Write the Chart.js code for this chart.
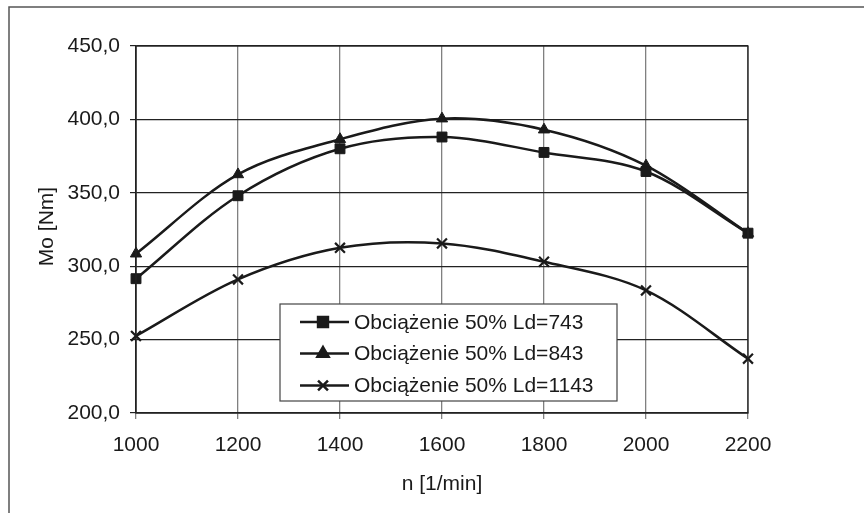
<!DOCTYPE html>
<html>
<head>
<meta charset="utf-8">
<script src="https://cdn.jsdelivr.net/npm/chart.js@4/dist/chart.umd.min.js"></script>
<style>
html,body{margin:0;padding:0;background:#fff;}
#wrap{position:relative;width:864px;height:513px;}
</style>
</head>
<body>
<div id="wrap"><canvas id="c" width="864" height="513"></canvas></div>
<script>
const categories = [1000, 1200, 1400, 1600, 1800, 2000, 2200];
const seriesLd743 = [291.5, 348, 380, 388, 377.5, 364.5, 322.5];
const seriesLd843 = [308.5, 362.5, 386.5, 400.5, 393, 368.5, 322.5];
const seriesLd1143 = [252.5, 291, 312.5, 315.5, 303, 283.5, 237];
const seriesLabels = ['Obciążenie 50% Ld=743', 'Obciążenie 50% Ld=843', 'Obciążenie 50% Ld=1143'];
const yTicks = [200, 250, 300, 350, 400, 450];
const xTitle = 'n [1/min]';
const yTitle = 'Mo [Nm]';

const FONT = '"Liberation Sans", Arial, sans-serif';
const INK = '#1a1a1a';

const frameAndLegend = {
  id: 'frameAndLegend',
  beforeDraw(chart) {
    const ctx = chart.ctx;
    ctx.save();
    ctx.strokeStyle = '#555';
    ctx.lineWidth = 1.5;
    ctx.beginPath();
    ctx.moveTo(9, 520);
    ctx.lineTo(9, 7);
    ctx.lineTo(870, 7);
    ctx.stroke();
    ctx.restore();
  },
  afterDraw(chart) {
    const ctx = chart.ctx;
    const a = chart.chartArea;
    ctx.save();
    ctx.strokeStyle = '#222';
    ctx.lineWidth = 1.3;
    ctx.strokeRect(a.left, a.top, a.right - a.left, a.bottom - a.top);
    ctx.fillStyle = INK;
    ctx.font = '21px ' + FONT;
    ctx.textAlign = 'center';
    ctx.textBaseline = 'middle';
    ctx.fillText(xTitle, (a.left + a.right) / 2, 484);
    ctx.save();
    ctx.translate(47, (a.top + a.bottom) / 2 - 3);
    ctx.rotate(-Math.PI / 2);
    ctx.fillText(yTitle, 0, 0);
    ctx.restore();
    const bx = 280, by = 304, bw = 337, bh = 97;
    ctx.fillStyle = '#fff';
    ctx.fillRect(bx, by, bw, bh);
    ctx.strokeStyle = '#444';
    ctx.lineWidth = 1.2;
    ctx.strokeRect(bx, by, bw, bh);
    const rows = [322, 353.5, 385.5];
    chart.data.datasets.forEach((ds, i) => {
      const y = rows[i];
      ctx.strokeStyle = INK;
      ctx.lineWidth = 2.5;
      ctx.beginPath();
      ctx.moveTo(300, y);
      ctx.lineTo(349, y);
      ctx.stroke();
      ctx.fillStyle = INK;
      ctx.strokeStyle = INK;
      Chart.helpers.drawPoint(ctx, {
        pointStyle: ds.pointStyle,
        radius: ds.pointRadius,
        borderWidth: ds.pointBorderWidth || 1,
        rotation: 0
      }, 323, y);
      ctx.font = '21px ' + FONT;
      ctx.textAlign = 'left';
      ctx.textBaseline = 'middle';
      ctx.fillStyle = INK;
      ctx.fillText(ds.label, 354, y + 1);
    });
    ctx.restore();
  }
};

new Chart(document.getElementById('c'), {
  type: 'line',
  data: {
    labels: categories,
    datasets: [
      { label: seriesLabels[0], data: seriesLd743, borderColor: INK, backgroundColor: INK, borderWidth: 2.5,
        pointStyle: 'rect', pointRadius: 7, pointBorderWidth: 1, pointBackgroundColor: INK, pointBorderColor: INK, tension: 0.33 },
      { label: seriesLabels[1], data: seriesLd843, borderColor: INK, backgroundColor: INK, borderWidth: 2.5,
        pointStyle: 'triangle', pointRadius: 6.5, pointBorderWidth: 1, pointBackgroundColor: INK, pointBorderColor: INK, tension: 0.33 },
      { label: seriesLabels[2], data: seriesLd1143, borderColor: INK, backgroundColor: INK, borderWidth: 2.5,
        pointStyle: 'crossRot', pointRadius: 7, pointBorderWidth: 2.2, pointBackgroundColor: INK, pointBorderColor: INK, tension: 0.33 }
    ]
  },
  options: {
    responsive: false,
    animation: false,
    devicePixelRatio: 1,
    layout: { padding: { left: 0, top: 46, right: 116, bottom: 0 } },
    plugins: { legend: { display: false }, tooltip: { enabled: false }, title: { display: false } },
    scales: {
      x: {
        type: 'category',
        offset: false,
        afterFit(s) { s.height = 100; },
        grid: { color: '#808080', lineWidth: 1.3, tickLength: 6, tickColor: '#808080', drawTicks: true },
        border: { display: true, color: '#222', width: 1.3 },
        ticks: { color: INK, font: { family: FONT, size: 21 }, padding: 14, maxRotation: 0, autoSkip: false }
      },
      y: {
        min: 200, max: 450,
        afterFit(s) { s.width = 136; },
        afterBuildTicks(s) { s.ticks = yTicks.map(v => ({ value: v })); },
        grid: { color: '#222', lineWidth: 1.2, tickLength: 6, tickColor: '#222' },
        border: { display: true, color: '#222', width: 1.3 },
        ticks: { color: INK, font: { family: FONT, size: 21 }, padding: 10,
          callback: v => v.toFixed(1).replace('.', ',') }
      }
    }
  },
  plugins: [frameAndLegend]
});
</script>
</body>
</html>
